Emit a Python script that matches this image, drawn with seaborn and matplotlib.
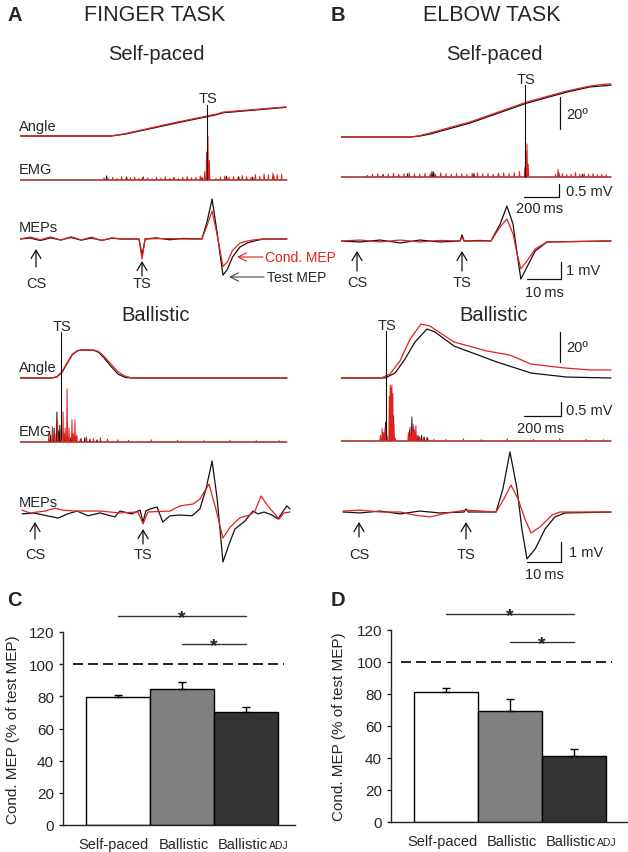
import matplotlib
matplotlib.use("Agg")
import matplotlib.pyplot as plt
import matplotlib.transforms as mtransforms
import seaborn as sns

sns.set_theme(style="white")
plt.rcParams['font.family'] = ['Liberation Sans', 'DejaVu Sans']

RED = '#e3211c'
BLK = '#111111'

# ---------------- bar chart data (C, D)
groups = ['Self-paced', 'Ballistic', 'BallisticADJ']
finger_mep = [79.8, 84.8, 70.0]
finger_sem = [1.0, 4.0, 3.5]
elbow_mep = [81.5, 69.5, 41.5]
elbow_sem = [2.2, 7.2, 4.2]
bar_colors = ['white', '#808080', '#333333']

# ---------------- finger task, self-paced (ms, deg / mV)
fs_angle_t = [0, 520, 600, 900, 1125, 1160, 1520]
fs_angle_test = [0, 0, 1.2, 8.5, 13.8, 15.0, 18.5]
fs_angle_cond = [0, 0, 1.5, 9.0, 14.2, 15.4, 18.8]

fs_emg_test_t = [495, 610, 700, 880, 1040, 1180, 1250, 1330, 1450]
fs_emg_test_h = [0.15, 0.10, 0.08, 0.08, 0.10, 0.14, 0.12, 0.10, 0.15]
fs_emg_cond_t = [480, 505, 530, 555, 580, 605, 630, 655, 680, 705, 730, 755, 780, 805, 830,
                 855, 880, 905, 930, 955, 980, 1005, 1030, 1055, 1066, 1074, 1082,
                 1120, 1145, 1170, 1195, 1220, 1245, 1270, 1295, 1320, 1345, 1370, 1395,
                 1420, 1445, 1470, 1495]
fs_emg_cond_h = [0.08, 0.05, 0.10, 0.06, 0.12, 0.05, 0.08, 0.10, 0.06, 0.12, 0.08, 0.05, 0.10, 0.07, 0.12,
                 0.06, 0.09, 0.05, 0.10, 0.12, 0.08, 0.10, 0.15, 0.30, 1.00, 1.57, 0.70,
                 0.06, 0.10, 0.14, 0.10, 0.12, 0.08, 0.16, 0.12, 0.10, 0.20, 0.14, 0.22,
                 0.18, 0.25, 0.20, 0.22]

fs_mep_t = [0, 3, 6, 9, 12, 15, 18, 21, 24, 27, 30, 35.0, 35.9, 36.8, 40, 44, 48, 53.5,
            55, 56.5, 58, 59.7, 61, 62.5, 64.7, 67, 69, 71.5, 78.5]
fs_mep_test = [0, 0.05, -0.08, 0.06, -0.05, 0.08, -0.06, 0.05, -0.07, 0.04, 0, 0, -0.85, 0,
               0.06, -0.04, 0.03, 0, 0.9, 2.1, 0.3, -1.9, -1.6, -0.95, -0.42, -0.2, -0.1, 0, 0]
fs_mep_cond = [0, 0.1, -0.04, 0.11, -0.06, 0.12, -0.05, 0.1, -0.08, 0.06, 0, 0, -1.05, 0,
               0.02, 0.02, 0, 0, 0.7, 1.47, 0.2, -1.45, -1.2, -0.6, -0.22, -0.1, -0.04, 0, 0]

# ---------------- finger task, ballistic
fb_angle_t = [0, 180, 210, 240, 270, 300, 330, 350, 420, 450, 480, 520, 560, 600, 640, 1525]
fb_angle_cond = [0, 0, 0.8, 4, 10, 15.5, 17.8, 18.1, 18.1, 17, 14, 9, 4, 1.2, 0, 0]
fb_angle_test = [0, 0, 0.6, 3.6, 9.5, 15.2, 17.6, 18.0, 18.0, 16.5, 13, 7.5, 2.5, 0.4, 0, 0]

fb_emg_test_t = [175, 195, 211, 220, 228, 252, 265, 290, 320, 345, 370, 400, 440]
fb_emg_test_h = [0.25, 0.5, 1.07, 0.4, 0.6, 0.3, 0.2, 0.15, 0.2, 0.1, 0.15, 0.1, 0.08]
fb_emg_cond_t = [165, 185, 200, 215, 235, 246, 258, 269, 280, 297, 305, 314, 325, 350, 380,
                 420, 460, 500, 560, 620, 750, 900, 1050, 1200, 1350, 1480]
fb_emg_cond_h = [0.35, 0.55, 0.3, 0.75, 0.45, 1.07, 0.5, 1.9, 0.5, 0.8, 0.3, 0.8, 0.25, 0.12, 0.18,
                 0.12, 0.15, 0.1, 0.08, 0.06, 0.08, 0.06, 0.05, 0.06, 0.05, 0.05]

fb_mep_test_t = [0.6, 4, 8, 11.2, 14, 16.8, 20, 23.5, 27.9, 29.4, 32.9, 35.3, 36.2, 37.0,
                 38.2, 40.3, 42, 44.1, 47, 50.6, 52.9, 54.7, 56.5, 58, 59.7, 61.2, 63.2, 66.2,
                 68.5, 70, 71.8, 74.1, 75.9, 77.4, 78.5, 79.4]
fb_mep_test = [-0.1, -0.05, -0.2, -0.32, -0.1, 0.05, -0.2, -0.05, -0.26, 0.05, -0.1, 0.1, -0.53,
               0.05, 0.16, 0.26, -0.53, -0.2, -0.16, -0.2, 0.16, 1.2, 2.68, 0.68, -2.63, -1.84,
               -0.9, -0.47, 0.05, -0.1, 0, -0.16, -0.37, 0.05, 0.32, 0.16]
fb_mep_cond_t = [0.6, 2.9, 7.4, 10.3, 12.4, 16.2, 23.5, 29.4, 34.7, 36.2, 37.6, 44.1, 47, 50.9,
                 52.9, 55.6, 57.6, 59.7, 61.8, 64.7, 67.6, 69.1, 70.9, 72.9, 76.2, 77.6, 79.4]
fb_mep_cond = [0.1, -0.05, 0.05, 0.2, 0.1, 0.05, 0.05, -0.05, 0, -0.63, 0, 0.05, 0.32, 0.42,
               0.68, 1.47, 0.16, -1.37, -0.8, -0.3, -0.16, 0.05, 0.84, 0.32, -0.37, -0.05, 0]

# ---------------- elbow task, self-paced
es_angle_t = [0, 400, 450, 509, 737, 1063, 1291, 1423, 1520, 1543]
es_angle_cond = [0, 0, 0.9, 2.6, 9.7, 22.6, 29.7, 32.9, 34.2, 34.2]
es_angle_test = [0, 0, 0.6, 1.9, 9.0, 21.9, 29.0, 32.3, 33.2, 33.5]

es_emg_test_t = [240, 380, 520, 530, 760, 900, 1245, 1380]
es_emg_test_h = [0.10, 0.12, 0.20, 0.18, 0.12, 0.10, 0.15, 0.10]
es_emg_cond_t = [150, 180, 210, 240, 270, 300, 330, 360, 390, 420, 450, 480, 510, 540, 570,
                 600, 630, 660, 690, 720, 750, 780, 810, 840, 870, 900, 930, 960, 990, 1020,
                 1050, 1058, 1063, 1070,
                 1225, 1240, 1265, 1290, 1315, 1340, 1365, 1390, 1415, 1440, 1465, 1490, 1515]
es_emg_cond_h = [0.06, 0.10, 0.12, 0.08, 0.10, 0.14, 0.10, 0.12, 0.15, 0.12, 0.10, 0.14, 0.12, 0.10, 0.15,
                 0.12, 0.10, 0.13, 0.12, 0.10, 0.14, 0.15, 0.12, 0.13, 0.10, 0.14, 0.15, 0.12, 0.16, 0.20,
                 0.35, 0.90, 1.18, 0.45,
                 0.10, 0.28, 0.12, 0.08, 0.10, 0.16, 0.10, 0.12, 0.10, 0.12, 0.08, 0.10, 0.08]

es_mep_t = [0, 5.6, 11.5, 17.4, 23.2, 29.1, 35.0, 35.6, 36.2, 41, 44.1, 46.8, 48.8, 50.6,
            51.8, 52.9, 54.7, 57.1, 60.6, 79.4]
es_mep_test = [0, -0.05, 0.05, -0.1, 0.05, -0.05, 0, 0.32, 0, 0.03, 0, 0.89, 1.84, 0.89,
               -0.68, -2.0, -1.37, -0.53, -0.05, 0]
es_mep_cond = [0, 0.05, -0.05, 0.05, -0.05, 0.03, 0, 0.2, 0, 0, 0, 0.74, 1.16, 0.37,
               -0.68, -1.47, -1.05, -0.42, -0.05, 0]

# ---------------- elbow task, ballistic
eb_angle_cond_t = [0, 229, 280, 337, 394, 457, 509, 646, 834, 966, 1086, 1274, 1423, 1543]
eb_angle_cond = [0, 0, 2.6, 11, 25, 34.8, 33.5, 23.2, 17.4, 14.8, 9, 6.5, 5.2, 5.2]
eb_angle_test_t = [0, 251, 309, 366, 423, 491, 537, 646, 891, 1086, 1291, 1543]
eb_angle_test = [0, 0, 3.2, 12.3, 23.2, 31.6, 29.7, 20.6, 10.3, 3.2, 0.6, 0]

eb_emg_test_t = [240, 255, 262, 292, 300, 392, 405, 415, 425, 445, 460, 475, 495]
eb_emg_test_h = [0.3, 0.68, 0.2, 1.3, 0.9, 0.4, 0.86, 0.5, 0.3, 0.18, 0.2, 0.15, 0.12]
eb_emg_cond_t = [225, 235, 245, 252, 262, 276, 281, 286, 291, 296, 302, 310, 385, 395, 405,
                 412, 420, 428, 436, 450, 470, 490, 530, 600, 700, 800, 950, 1100, 1250, 1400, 1500]
eb_emg_cond_h = [0.2, 0.45, 0.3, 0.5, 0.15, 1.6, 2.0, 1.9, 2.0, 1.7, 0.6, 0.1, 0.3, 0.5, 0.35,
                 0.6, 0.4, 0.55, 0.2, 0.12, 0.1, 0.12, 0.06, 0.06, 0.08, 0.05, 0.08, 0.06, 0.08, 0.06, 0.05]

eb_mep_test_t = [0.6, 5.6, 11.5, 17.4, 23.2, 29.1, 36.2, 36.8, 37.4, 45.6, 47.6, 49.7, 51.8,
                 53.2, 54.7, 57.1, 60, 62.9, 65.9, 79.4]
eb_mep_test = [0, -0.05, 0.05, -0.1, 0.05, -0.05, 0, 0.16, 0, 0, 1.2, 3.16, 1.2,
               -0.9, -2.47, -1.95, -0.9, -0.26, -0.05, 0]
eb_mep_cond_t = [0.6, 5.6, 11.5, 17.4, 21.5, 26.2, 31.2, 36.8, 45.6, 47.9, 50, 52.1, 54.1,
                 55.9, 58.5, 62.1, 64.4, 79.4]
eb_mep_cond = [0.05, 0.1, 0, 0, -0.16, -0.26, -0.05, 0.1, 0, 0.68, 1.42, 0.68, -0.37,
               -1.1, -0.79, -0.16, 0, 0]

# ---------------- figure
W, H = 628, 853
fig = plt.figure(figsize=(W / 100, H / 100), dpi=100)

# pixel scales of the traces
PX_MS_SLOW = 0.175   # 200 ms = 35 px
PX_DEG = 1.55        # 20 deg = 31 px
PX_MV_EMG = 28       # 0.5 mV = 14 px
PX_MS_MEP = 3.4      # 10 ms = 34 px
PX_MV_MEP = 19       # 1 mV = 19 px


def emg_xy(times, heights, t_end, half=3):
    xs, ys = [0], [0]
    for t, h in zip(times, heights):
        xs += [t - half, t, t + half]
        ys += [0, h, 0]
    xs.append(t_end)
    ys.append(0)
    return xs, ys


def draw_row(x_left, x_right, y_zero, px_x, px_y, series, lw=0.9, below=70, above=70):
    ax = fig.add_axes([x_left / W, 1 - (y_zero + below) / H,
                       (x_right - x_left) / W, (below + above) / H])
    for x, y, c in series:
        sns.lineplot(x=x, y=y, ax=ax, color=c, linewidth=lw, estimator=None, sort=False)
    ax.set_xlim(0, (x_right - x_left) / px_x)
    ax.set_ylim(-below / px_y, above / px_y)
    ax.axis('off')
    return ax


# finger task traces
draw_row(20, 292, 137, PX_MS_SLOW, PX_DEG,
         [(fs_angle_t, fs_angle_test, BLK), (fs_angle_t, fs_angle_cond, RED)])
draw_row(20, 292, 181, PX_MS_SLOW, PX_MV_EMG,
         [(*emg_xy(fs_emg_test_t, fs_emg_test_h, 1525), BLK),
          (*emg_xy(fs_emg_cond_t, fs_emg_cond_h, 1525), RED)], lw=0.7)
draw_row(20, 292, 240, PX_MS_MEP, PX_MV_MEP,
         [(fs_mep_t, fs_mep_test, BLK), (fs_mep_t, fs_mep_cond, RED)])
draw_row(20, 292, 379, PX_MS_SLOW, PX_DEG,
         [(fb_angle_t, fb_angle_test, BLK), (fb_angle_t, fb_angle_cond, RED)])
draw_row(20, 292, 443, PX_MS_SLOW, PX_MV_EMG,
         [(*emg_xy(fb_emg_test_t, fb_emg_test_h, 1525), BLK),
          (*emg_xy(fb_emg_cond_t, fb_emg_cond_h, 1525), RED)], lw=0.7)
draw_row(20, 292, 513, PX_MS_MEP, PX_MV_MEP,
         [(fb_mep_test_t, fb_mep_test, BLK), (fb_mep_cond_t, fb_mep_cond, RED)])

# elbow task traces
draw_row(341, 615, 138, PX_MS_SLOW, PX_DEG,
         [(es_angle_t, es_angle_test, BLK), (es_angle_t, es_angle_cond, RED)])
draw_row(341, 615, 178, PX_MS_SLOW, PX_MV_EMG,
         [(*emg_xy(es_emg_test_t, es_emg_test_h, 1543), BLK),
          (*emg_xy(es_emg_cond_t, es_emg_cond_h, 1543), RED)], lw=0.7)
draw_row(341, 615, 242, PX_MS_MEP, PX_MV_MEP,
         [(es_mep_t, es_mep_test, BLK), (es_mep_t, es_mep_cond, RED)])
draw_row(341, 615, 379, PX_MS_SLOW, PX_DEG,
         [(eb_angle_test_t, eb_angle_test, BLK), (eb_angle_cond_t, eb_angle_cond, RED)])
draw_row(341, 615, 442, PX_MS_SLOW, PX_MV_EMG,
         [(*emg_xy(eb_emg_test_t, eb_emg_test_h, 1543), BLK),
          (*emg_xy(eb_emg_cond_t, eb_emg_cond_h, 1543), RED)], lw=0.7)
draw_row(341, 615, 513, PX_MS_MEP, PX_MV_MEP,
         [(eb_mep_test_t, eb_mep_test, BLK), (eb_mep_cond_t, eb_mep_cond, RED)])

# ---------------- overlay for labels, arrows, scale bars
ov = fig.add_axes([0, 0, 1, 1])
ov.set_xlim(0, W)
ov.set_ylim(H, 0)
ov.axis('off')
ov.set_facecolor('none')


def txt(x, y, s, size=10, ha='center', **kw):
    ov.text(x, y, s, fontsize=size, ha=ha, va='center', **kw)


def arrow_up(x, y0, y1):
    ov.annotate('', xy=(x, y1), xytext=(x, y0),
                arrowprops=dict(arrowstyle='->,head_width=0.3,head_length=0.5',
                                color=BLK, lw=0.9, shrinkA=0, shrinkB=0))


def scale_bar(x_end, y_bot, y_top, x_start=None):
    ov.plot([x_end, x_end], [y_top, y_bot], color=BLK, lw=0.9)
    if x_start is not None:
        ov.plot([x_start, x_end], [y_bot, y_bot], color=BLK, lw=0.9)


# panel letters and titles
txt(7, 15, 'A', 14.5, ha='left', fontweight='bold')
txt(155, 15, 'FINGER TASK', 15.5)
txt(331, 15, 'B', 14.5, ha='left', fontweight='bold')
txt(492, 15, 'ELBOW TASK', 15.5)
txt(7, 601, 'C', 14.5, ha='left', fontweight='bold')
txt(331, 601, 'D', 14.5, ha='left', fontweight='bold')

for xc in (156, 494):
    txt(xc, 54, 'Self-paced', 14.5)
    txt(xc, 315, 'Ballistic', 14.5)

# row labels (finger task)
for y, s in [(127, 'Angle'), (170, 'EMG'), (228, 'MEPs'),
             (368, 'Angle'), (432, 'EMG'), (503, 'MEPs')]:
    txt(19, y, s, 10.5, ha='left')

# TS markers on movement traces
for x, y_lab, y0, y1 in [(207, 99, 106, 180), (525, 80, 86, 178),
                         (61, 327, 333, 440), (386, 326, 332, 440)]:
    txt(x + 1, y_lab, 'TS', 10.5)
    ov.plot([x, x], [y0, y1], color=BLK, lw=0.8)

# CS / TS stimulus arrows under MEPs
for x, y0, y1, y_lab, s in [(36, 268, 250, 284, 'CS'), (142, 277, 262, 284, 'TS'),
                            (357, 272, 252, 283, 'CS'), (462, 272, 252, 283, 'TS'),
                            (35, 540, 523, 555, 'CS'), (143, 545, 530, 555, 'TS'),
                            (359, 538, 523, 555, 'CS'), (466, 540, 523, 555, 'TS')]:
    arrow_up(x, y0, y1)
    txt(x, y_lab, s, 10.5)

# Cond./Test MEP callouts
ov.annotate('', xy=(237, 258), xytext=(263, 258),
            arrowprops=dict(arrowstyle='->,head_width=0.25,head_length=0.5',
                            color=RED, lw=0.8, shrinkA=0, shrinkB=0))
txt(265, 258, 'Cond. MEP', 10, ha='left', color=RED)
ov.annotate('', xy=(229, 278), xytext=(264, 278),
            arrowprops=dict(arrowstyle='->,head_width=0.25,head_length=0.5',
                            color='#444444', lw=0.8, shrinkA=0, shrinkB=0))
txt(267, 278, 'Test MEP', 10, ha='left')

# scale bars (elbow task)
scale_bar(560, 130, 98)
txt(566, 115, '20º', 10.5, ha='left')
scale_bar(559, 198, 185, x_start=524)
txt(566, 192, '0.5 mV', 10.5, ha='left')
txt(540, 209, '200\u2009ms', 10.5)
scale_bar(561, 280, 263, x_start=527)
txt(566, 271, '1 mV', 10.5, ha='left')
txt(544, 293, '10\u2009ms', 10.5)
scale_bar(560, 363, 333)
txt(566, 348, '20º', 10.5, ha='left')
scale_bar(561, 417, 403, x_start=524)
txt(566, 411, '0.5 mV', 10.5, ha='left')
txt(541, 429, '200\u2009ms', 10.5)
scale_bar(561, 563, 543, x_start=527)
txt(569, 553, '1 mV', 10.5, ha='left')
txt(544, 575, '10\u2009ms', 10.5)


# ---------------- bar charts
def bar_panel(left, right, bottom, top, vals, sems, xlim):
    ax = fig.add_axes([left / W, 1 - bottom / H, (right - left) / W, (bottom - top) / H])
    sns.barplot(x=groups, y=vals, hue=groups, palette=bar_colors, edgecolor='black',
                linewidth=1, width=1.0, saturation=1, legend=False, ax=ax)
    ax.errorbar(x=[0, 1, 2], y=vals, yerr=[[0, 0, 0], sems], fmt='none', ecolor='black',
                elinewidth=1, capsize=3, capthick=1, zorder=3)
    ax.plot([-0.7, 2.6], [100, 100], color='black', lw=1.2, ls=(0, (6, 3)))
    for x0, y, xs in [(0, 130, 1.0), (1, 112.5, 1.5)]:
        ax.plot([x0, 2], [y, y], color='#333333', lw=1, clip_on=False)
        ax.text(xs, y - 1.2, '*', ha='center', va='center', fontsize=14,
                fontweight='bold', clip_on=False)
    ax.set_xlim(*xlim)
    ax.set_ylim(0, 120)
    ax.set_yticks(range(0, 121, 20))
    ax.set_ylabel('Cond. MEP (% of test MEP)', fontsize=11)
    ax.set_xlabel('')
    sns.despine(ax=ax)
    for s in ('left', 'bottom'):
        ax.spines[s].set_color('#222222')
        ax.spines[s].set_linewidth(1)
    ax.tick_params(axis='y', left=True, length=3, width=1, direction='out',
                   labelsize=11, pad=3.5, color='#222222')
    ax.tick_params(axis='x', bottom=False, labelsize=10.5, pad=3)
    ax.set_xticks([0, 1, 2])
    ax.set_xticklabels(['Self-paced', 'Ballistic', 'Ballistic'])
    # spread the three category labels a little, as in the original
    labs = ax.get_xticklabels()
    for lab, dx in zip(labs, (-4, 2, -3)):
        lab.set_transform(lab.get_transform() +
                          mtransforms.ScaledTranslation(dx / 100, 0, fig.dpi_scale_trans))
    ax.annotate('ADJ', xy=(1, 0), xycoords=labs[2], xytext=(0.5, 1.2),
                textcoords='offset points', fontsize=7.5, ha='left', va='bottom')
    return ax


axc = bar_panel(63, 295, 826, 633, finger_mep, finger_sem, (-0.86, 2.77))
axc.yaxis.set_label_coords(-0.185, 0.5)
axd = bar_panel(391, 627, 823, 631, elbow_mep, elbow_sem, (-0.86, 2.83))
axd.yaxis.set_label_coords(-0.19, 0.5)

fig.savefig('out.png', dpi=100)
